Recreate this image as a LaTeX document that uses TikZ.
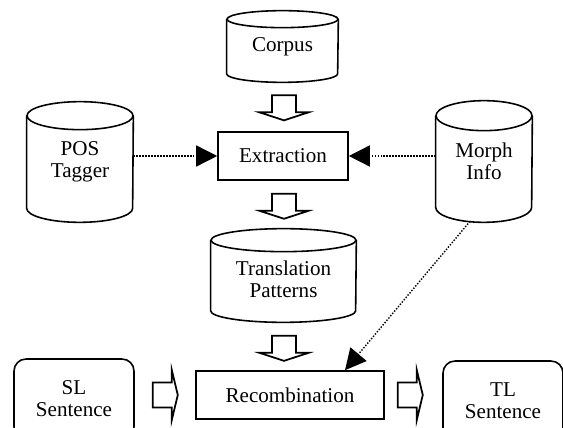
\documentclass[tikz,border=0pt]{standalone}
\usepackage{fontspec}
\setmainfont{Liberation Serif}
\usetikzlibrary{arrows.meta, positioning, calc}

\begin{document}
\begin{tikzpicture}[
    x=0.02cm, y=0.02cm,
    font=\fontsize{12}{12.5}\selectfont,
    db/.style={align=center, inner sep=0pt},
    outline/.style={draw=black, line width=0.9pt},
    block/.style={rectangle, draw=black, line width=0.9pt, align=center, minimum width=2.6cm, minimum height=0.96cm},
    io/.style={rectangle, rounded corners=0.24cm, draw=black, line width=0.9pt, align=center, minimum width=2.4cm, minimum height=1.6cm},
    dots/.style={line width=0.8pt, dash pattern=on 0.8pt off 0.9pt, -{Triangle[length=0.42cm, width=0.42cm]}},
    fatdown/.pic={\draw[line width=1pt, fill=white] (-12,0) -- (-12,-17) -- (-24.5,-17) -- (0,-25) -- (24.5,-17) -- (12,-17) -- (12,0) -- cycle;},
    fatright/.pic={\draw[line width=1pt, fill=white] (0,12.5) -- (19,12.5) -- (19,25) -- (25,0) -- (19,-25) -- (19,-12.5) -- (0,-12.5) -- cycle;}
]
\path[use as bounding box] (0,0) rectangle (563,-428);
\clip (0,0) rectangle (563,-428);

\node[db, minimum width=2.22cm, minimum height=1.42cm] (corpus) at (282.5,-46.5) {Corpus};
\node[block] (extract) at (283,-156) {Extraction};
\node[db, minimum width=2.12cm, minimum height=2.4cm] (postag) at (80,-162) {POS\\Tagger};
\node[db, minimum width=1.92cm, minimum height=2.42cm] (morph) at (484,-161.5) {Morph\\Info};
\node[db, minimum width=2.9cm, minimum height=1.86cm] (trans) at (283.5,-275.5) {\rule{0pt}{0.45cm}Translation\\Patterns};
\node[block, minimum width=3.76cm] (recomb) at (290,-395) {Recombination};
\node[io] (slsent) at (74,-399) {SL\\Sentence};
\node[io] (tlsent) at (503,-401) {TL\\Sentence};

% cylinders
\foreach \n/\rx/\ry in {corpus/1.11/0.17, postag/1.06/0.28, morph/0.96/0.3, trans/1.45/0.23} {
  \draw[outline] ([yshift=-\ry cm]\n.north west) -- ([yshift=\ry cm]\n.south west)
    arc[start angle=180, end angle=360, x radius=\rx cm, y radius=\ry cm]
    -- ([yshift=-\ry cm]\n.north east);
  \draw[outline] ([yshift=-\ry cm]\n.north) ellipse[x radius=\rx cm, y radius=\ry cm];
}

\pic at ($(corpus.south)+(1.5,-13)$) {fatdown};
\pic at ($(extract.south)+(1,-13)$) {fatdown};
\pic at ($(trans.south)+(0.5,-13.5)$) {fatdown};
\pic at ($(slsent.east)+(18,4)$) {fatright};
\pic at ($(recomb.east)+(13,0)$) {fatright};

\draw[dots] (postag.east |- extract.west) -- (extract.west);
\draw[dots] (morph.west |- extract.east) -- (extract.east);
\draw[dots] ($(morph.south)+(-14,1)$) -- ($(recomb.north)+(55,0)$);

\end{tikzpicture}
\end{document}
